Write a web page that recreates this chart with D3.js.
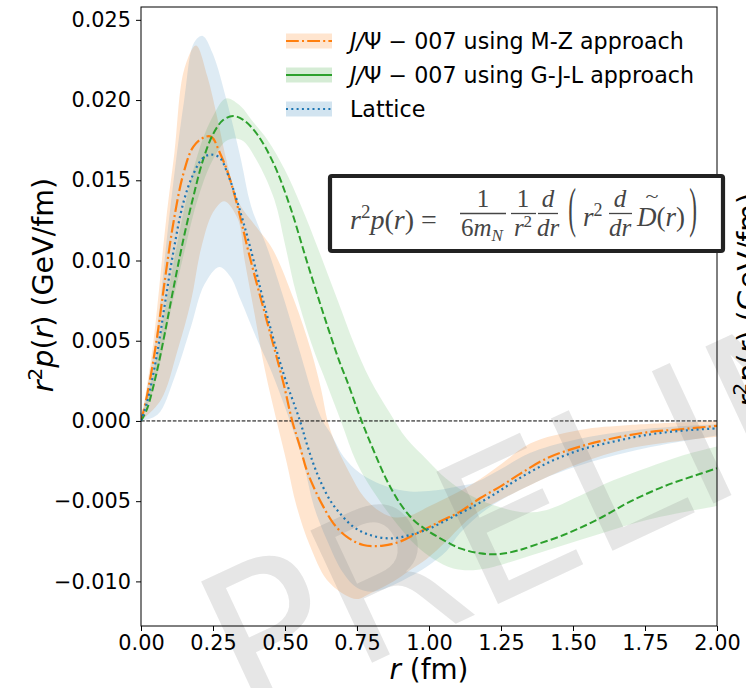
<!DOCTYPE html>
<html><head><meta charset="utf-8">
<script src="https://cdn.jsdelivr.net/npm/d3@7"></script>
<style>body{margin:0;background:#fff;} svg{display:block;}</style>
</head><body>
<svg id="chart" width="746" height="688"></svg>
<script>
// ---------- data ----------
const xTicks = [0, 0.25, 0.5, 0.75, 1.0, 1.25, 1.5, 1.75, 2.0];
const yTicks = [-0.010, -0.005, 0.000, 0.005, 0.010, 0.015, 0.020, 0.025];
const seriesNames = ["J/\u03a8 \u2212 007 using M-Z approach", "J/\u03a8 \u2212 007 using G-J-L approach", "Lattice"];

// M-Z (orange) central line
const rMZ   = [0,0.02,0.054,0.083,0.112,0.147,0.182,0.222,0.245,0.274,0.303,0.332,0.378,0.436,0.494,0.525,0.552,0.575,0.604,0.633,0.668,0.714,0.772,0.841,0.899,0.969,1.038,1.108,1.177,1.247,1.316,1.409,1.524,1.64,1.756,1.872,2.0];
const mzMid = [0,0.0015,0.0050,0.0088,0.0123,0.0154,0.0171,0.0177,0.0177,0.0167,0.0154,0.0136,0.0102,0.0063,0.0024,0,-0.0016,-0.00305,-0.0043,-0.00534,-0.00638,-0.00721,-0.00773,-0.00777,-0.00752,-0.0069,-0.00627,-0.00565,-0.00482,-0.00409,-0.0033,-0.00233,-0.0016,-0.00108,-0.00071,-0.00052,-0.00031];
// M-Z band
const rMZHi = [0,0.04,0.087,0.116,0.15,0.191,0.23,0.266,0.30,0.34,0.40,0.457,0.532,0.59,0.625,0.648,0.679,0.726,0.772,0.818,0.876,0.934,0.992,1.06,1.154,1.25,1.351,1.524,1.698,2.0];
const mzHi  = [0,0.0045,0.0125,0.0167,0.0219,0.0234,0.0215,0.0188,0.0160,0.0136,0.0121,0.0107,0.0075,0.0044,0.0020,0,-0.0016,-0.0033,-0.0047,-0.0055,-0.0060,-0.0059,-0.0054,-0.0048,-0.0039,-0.0027,-0.0014,-0.00056,-0.00025,0];
const rMZLo = [0,0.069,0.127,0.174,0.208,0.25,0.289,0.336,0.36,0.394,0.43,0.471,0.506,0.54,0.587,0.645,0.714,0.75,0.8,0.876,0.934,0.992,1.06,1.12,1.177,1.25,1.351,1.524,1.698,2.0];
const mzLo  = [0,0.0013,0.0044,0.0075,0.0107,0.0130,0.0137,0.0126,0.0100,0.0067,0.0032,0,-0.0026,-0.0053,-0.0078,-0.0099,-0.0109,-0.0111,-0.0107,-0.0100,-0.0093,-0.0086,-0.0075,-0.0064,-0.0056,-0.0049,-0.0040,-0.00264,-0.0017,-0.00098];

// G-J-L (green) central line
const rGJL   = [0,0.02,0.054,0.083,0.112,0.147,0.182,0.216,0.251,0.286,0.32,0.355,0.402,0.459,0.517,0.575,0.633,0.691,0.714,0.766,0.807,0.853,0.899,0.946,0.992,1.05,1.108,1.177,1.247,1.316,1.351,1.467,1.582,1.698,1.814,1.929,2.0];
const gjlMid = [0,0.0007,0.0030,0.0055,0.0082,0.0113,0.0140,0.0163,0.0179,0.01877,0.0190,0.01877,0.0179,0.0161,0.0134,0.0100,0.0067,0.0036,0.00256,0,-0.00181,-0.00368,-0.00513,-0.00617,-0.0068,-0.00742,-0.00794,-0.00825,-0.00829,-0.00804,-0.00783,-0.00711,-0.00617,-0.00503,-0.00409,-0.00337,-0.00295];
// G-J-L band
const rGJLHi = [0,0.05,0.1,0.15,0.2,0.25,0.295,0.347,0.382,0.44,0.498,0.556,0.62,0.683,0.74,0.795,0.864,0.922,0.992,1.06,1.15,1.25,1.33,1.409,1.52,1.64,1.76,1.872,2.0];
const gjlHi  = [0,0.0036,0.0086,0.0132,0.0168,0.0190,0.0201,0.0196,0.0188,0.0175,0.0157,0.0134,0.0105,0.0075,0.0048,0.0026,0.0005,-0.0011,-0.0024,-0.0036,-0.0047,-0.0054,-0.0057,-0.00555,-0.0047,-0.0037,-0.0029,-0.0022,-0.0016];
const rGJLLo = [0,0.05,0.1,0.15,0.2,0.25,0.3,0.35,0.4,0.463,0.5,0.538,0.6,0.639,0.694,0.749,0.818,0.888,0.957,1.015,1.084,1.154,1.223,1.316,1.524,1.756,2.0];
const gjlLo  = [0,0.0024,0.0066,0.0105,0.0140,0.0163,0.0175,0.0175,0.0163,0.0138,0.0110,0.0080,0.0044,0.0026,0,-0.0026,-0.0047,-0.0064,-0.0078,-0.0086,-0.0092,-0.0093,-0.0091,-0.0086,-0.00742,-0.00617,-0.0053];

// Lattice (blue) central line
const rLat   = [0,0.02,0.054,0.083,0.112,0.147,0.182,0.216,0.245,0.274,0.303,0.332,0.378,0.436,0.494,0.552,0.575,0.598,0.621,0.656,0.691,0.737,0.795,0.865,0.934,1.003,1.073,1.142,1.223,1.304,1.409,1.524,1.64,1.756,1.872,2.0];
const latMid = [0,0.0011,0.0040,0.0073,0.0105,0.0136,0.0154,0.0164,0.0166,0.0164,0.0153,0.0138,0.0109,0.0067,0.0030,0,-0.00139,-0.00264,-0.00368,-0.00493,-0.00576,-0.00659,-0.00711,-0.00732,-0.00711,-0.00669,-0.00607,-0.00544,-0.00461,-0.00368,-0.00264,-0.00181,-0.00129,-0.00087,-0.00062,-0.00046];
// Lattice band
const rLatHi = [0,0.05,0.1,0.15,0.185,0.214,0.249,0.30,0.347,0.382,0.44,0.498,0.55,0.602,0.631,0.662,0.703,0.761,0.853,0.934,1.015,1.108,1.154,1.25,1.35,1.5,1.75,2.0];
const latHi  = [0,0.0050,0.0130,0.0200,0.0236,0.0240,0.0229,0.0198,0.0163,0.0134,0.0107,0.0075,0.0044,0.0013,0,-0.00087,-0.00222,-0.00326,-0.00409,-0.0044,-0.00434,-0.00405,-0.00389,-0.0030,-0.0020,-0.0012,-0.0005,-0.0002];
const rLatLo = [0,0.058,0.116,0.174,0.22,0.272,0.31,0.347,0.40,0.45,0.517,0.564,0.60,0.645,0.703,0.75,0.807,0.876,0.934,0.992,1.061,1.107,1.2,1.35,1.5,1.75,2.0];
const latLo  = [0,0.0004,0.0027,0.0059,0.0085,0.0096,0.0090,0.0075,0.0052,0.0032,0,-0.0026,-0.0053,-0.0074,-0.0095,-0.0104,-0.01064,-0.01023,-0.0097,-0.00908,-0.0081,-0.0070,-0.0055,-0.0040,-0.0029,-0.0017,-0.0009];

// ---------- drawing ----------
const plot = {left: 141, right: 717, top: 7, bottom: 626};
const svg = d3.select("#chart");
const x = d3.scaleLinear().domain([0, 2]).range([plot.left, plot.right]);
const y = d3.scaleLinear().domain([-0.01278, 0.0258]).range([plot.bottom, plot.top]);

const colors = {mz: "#ff7f0e", gjl: "#2ca02c", lat: "#1f77b4"};
const zip = (rs, vs) => rs.map((r, i) => [r, vs[i]]);
const line = d3.line().x(d => x(d[0])).y(d => y(d[1])).curve(d3.curveCatmullRom.alpha(0.5));
function bandPath(rHi, vHi, rLo, vLo) {
  const up = line(zip(rHi, vHi));
  const lo = line(zip(rLo, vLo).reverse());
  return up + "L" + lo.slice(1) + "Z";
}

svg.append("defs").append("clipPath").attr("id", "clip")
  .append("rect").attr("x", plot.left).attr("y", plot.top)
  .attr("width", plot.right - plot.left).attr("height", plot.bottom - plot.top);

const gPlot = svg.append("g").attr("clip-path", "url(#clip)");

// bands
gPlot.append("path").attr("d", bandPath(rMZHi, mzHi, rMZLo, mzLo)).attr("fill", colors.mz).attr("fill-opacity", 0.2);
gPlot.append("path").attr("d", bandPath(rGJLHi, gjlHi, rGJLLo, gjlLo)).attr("fill", colors.gjl).attr("fill-opacity", 0.14);
gPlot.append("path").attr("d", bandPath(rLatHi, latHi, rLatLo, latLo)).attr("fill", colors.lat).attr("fill-opacity", 0.15);

// watermark (between bands and lines)
const font = "'DejaVu Sans', sans-serif";
svg.append("text").attr("transform", "translate(245,722) rotate(-25)")
  .attr("font-family", font).attr("font-size", 200).attr("fill", "#808080").attr("fill-opacity", 0.2)
  .text("PRELIMINARY");

// zero line
gPlot.append("line").attr("x1", plot.left).attr("x2", plot.right).attr("y1", y(0)).attr("y2", y(0))
  .attr("stroke", "#000").attr("stroke-width", 1).attr("stroke-dasharray", "3.7,1.6");

// central lines
const gLines = svg.append("g").attr("clip-path", "url(#clip)");
gLines.append("path").attr("d", line(zip(rMZ, mzMid))).attr("fill", "none").attr("stroke", colors.mz)
  .attr("stroke-width", 2.2).attr("stroke-dasharray", "12.8,3.2,2,3.2");
gLines.append("path").attr("d", line(zip(rGJL, gjlMid))).attr("fill", "none").attr("stroke", colors.gjl)
  .attr("stroke-width", 2).attr("stroke-dasharray", "7.4,3.2");
gLines.append("path").attr("d", line(zip(rLat, latMid))).attr("fill", "none").attr("stroke", colors.lat)
  .attr("stroke-width", 2.2).attr("stroke-dasharray", "2,3.3");

// axes
const xAxis = d3.axisBottom(x).tickValues(xTicks).tickFormat(d3.format(".2f")).tickSizeInner(5).tickSizeOuter(0).tickPadding(4);
const yAxis = d3.axisLeft(y).tickValues(yTicks).tickFormat(d3.format(".3f")).tickSizeInner(5).tickSizeOuter(0).tickPadding(5);
const gx = svg.append("g").attr("transform", `translate(0,${plot.bottom})`).call(xAxis);
const gy = svg.append("g").attr("transform", `translate(${plot.left},0)`).call(yAxis);
[gx, gy].forEach(g => {
  g.select(".domain").remove();
  g.selectAll("text").attr("font-family", font).attr("font-size", 20.8).attr("fill", "#000");
  g.selectAll("line").attr("stroke", "#000").attr("stroke-width", 1);
});
svg.append("rect").attr("x", plot.left).attr("y", plot.top)
  .attr("width", plot.right - plot.left).attr("height", plot.bottom - plot.top)
  .attr("fill", "none").attr("stroke", "#000").attr("stroke-width", 1);

// axis labels
svg.append("text").attr("x", (plot.left + plot.right) / 2).attr("y", 679).attr("text-anchor", "middle")
  .attr("font-family", font).attr("font-size", 27.8)
  .call(t => { t.append("tspan").attr("font-style", "italic").text("r"); t.append("tspan").text(" (fm)"); });

function yLabel(xpos, ypos) {
  const t = svg.append("text").attr("transform", `translate(${xpos},${ypos}) rotate(-90)`)
    .attr("text-anchor", "middle").attr("font-family", font).attr("font-size", 28.5);
  t.append("tspan").attr("font-style", "italic").text("r");
  t.append("tspan").attr("font-size", 20).attr("dy", -11).text("2");
  t.append("tspan").attr("font-style", "italic").attr("dy", 11).text("p");
  t.append("tspan").text("(");
  t.append("tspan").attr("font-style", "italic").text("r");
  t.append("tspan").text(") (GeV/fm)");
}
yLabel(53, 285);
yLabel(758, 300); // label of the neighbouring panel, cut by the page edge

// legend
const legY = [41, 75, 109];
const legKeys = ["mz", "gjl", "lat"];
const legDash = ["12.8,3.2,2,3.2", null, "2,3.3"];
legKeys.forEach((k, i) => {
  const g = svg.append("g");
  g.append("rect").attr("x", 286).attr("y", legY[i] - 7.5).attr("width", 46).attr("height", 15)
    .attr("fill", colors[k]).attr("fill-opacity", 0.2);
  g.append("line").attr("x1", 286).attr("x2", 332).attr("y1", legY[i]).attr("y2", legY[i])
    .attr("stroke", colors[k]).attr("stroke-width", 2).attr("stroke-dasharray", legDash[i]);
  const t = g.append("text").attr("x", 350).attr("y", legY[i] + 8).attr("font-family", font).attr("font-size", 22.2);
  const name = seriesNames[i];
  if (name.startsWith("J")) {
    t.append("tspan").attr("font-style", "italic").text("J/");
    t.append("tspan").text(name.slice(2));
  } else t.text(name);
});

// formula box
const fb = svg.append("g");
fb.append("rect").attr("x", 330).attr("y", 176).attr("width", 393).attr("height", 75).attr("rx", 2)
  .attr("fill", "#fff").attr("stroke", "#222").attr("stroke-width", 4.2);
const serif = "'Liberation Serif','DejaVu Serif',serif";
const fc = "#454545";
function ft(xp, yp, anchor, size) {
  return fb.append("text").attr("x", xp).attr("y", yp).attr("text-anchor", anchor)
    .attr("font-family", serif).attr("font-size", size).attr("fill", fc);
}
function bar(x1, x2) {
  fb.append("line").attr("x1", x1).attr("x2", x2).attr("y1", 213.5).attr("y2", 213.5).attr("stroke", fc).attr("stroke-width", 1.3);
}
function bigParen(xp, ch) {
  fb.append("text").attr("transform", `translate(${xp},226) scale(0.75,1.8)`).attr("text-anchor", "middle")
    .attr("font-family", serif).attr("font-size", 31).attr("fill", fc).text(ch);
}
{
  const t = ft(350, 229, "start", 28);
  t.append("tspan").attr("font-style", "italic").text("r");
  t.append("tspan").attr("font-size", 19).attr("dy", -11).text("2");
  t.append("tspan").attr("font-style", "italic").attr("dy", 11).text("p");
  t.append("tspan").text("(");
  t.append("tspan").attr("font-style", "italic").text("r");
  t.append("tspan").text(") =");
}
ft(483, 207, "middle", 25).text("1");
bar(460, 506);
{
  const t = ft(482, 236, "middle", 25);
  t.append("tspan").text("6");
  t.append("tspan").attr("font-style", "italic").text("m");
  t.append("tspan").attr("font-style", "italic").attr("font-size", 17).attr("dy", 5).text("N");
}
ft(523, 207, "middle", 25).text("1");
bar(511, 536);
{
  const t = ft(523, 236, "middle", 25);
  t.append("tspan").attr("font-style", "italic").text("r");
  t.append("tspan").attr("font-size", 17).attr("dy", -9).text("2");
}
ft(548, 207, "middle", 25).attr("font-style", "italic").text("d");
bar(538, 558);
ft(548, 236, "middle", 25).attr("font-style", "italic").text("dr");
bigParen(572, "(");
{
  const t = ft(583, 226, "start", 27);
  t.append("tspan").attr("font-style", "italic").text("r");
  t.append("tspan").attr("font-size", 18).attr("dy", -10).text("2");
}
ft(620, 207, "middle", 25).attr("font-style", "italic").text("d");
bar(609, 632);
ft(620, 236, "middle", 25).attr("font-style", "italic").text("dr");
{
  const t = ft(637, 226, "start", 27);
  t.append("tspan").attr("font-style", "italic").text("D");
  t.append("tspan").text("(");
  t.append("tspan").attr("font-style", "italic").text("r");
  t.append("tspan").text(")");
}
fb.append("text").attr("transform", "translate(652,202) scale(1.5,1)").attr("text-anchor", "middle")
  .attr("font-family", serif).attr("font-size", 16).attr("fill", fc).text("~");
bigParen(693, ")");
</script>
</body></html>
